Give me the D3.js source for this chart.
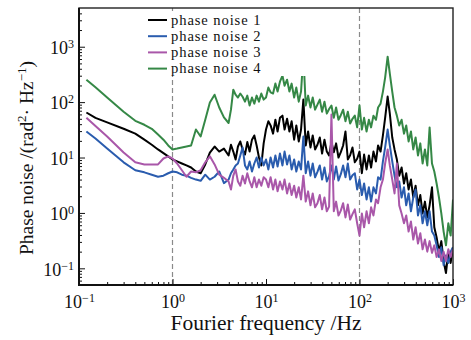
<!DOCTYPE html>
<html>
<head>
<meta charset="utf-8">
<script src="https://cdn.jsdelivr.net/npm/d3@7"></script>
<style>
  body { margin: 0; background: #fff; }
  text { font-family: "Liberation Serif", "Times New Roman", serif; fill: #111; }
</style>
</head>
<body>
<div id="chart"></div>
<script>
// Fourier frequency (Hz)
const freq = [
    0.12, 0.15, 0.2, 0.3, 0.4, 0.5, 0.6, 0.7, 0.8, 0.9,
    1, 1.12, 1.26, 1.41, 1.58, 1.78, 2, 2.24, 2.51, 2.82, 3.16, 3.55,
    3.98, 4.22, 4.47, 4.73, 5.01, 5.31, 5.62, 5.96, 6.31, 6.68, 7.08, 7.5, 7.94, 8.41, 8.91, 9.44,
    10, 10.6, 11.2, 11.9, 12.6, 13.3, 14.1, 15, 15.8, 16.8,
    17.8, 18.8, 20, 21.1, 22.4, 23.7, 25.1, 26.6, 28.2, 29.9,
    31.6, 33.5, 35.5, 37.6, 39.8, 42.2, 44.7, 47.3, 50.1, 53.1,
    56.2, 59.6, 63.1, 66.8, 70.8, 75, 79.4, 84.1, 89.1, 94.4,
    100, 106, 112, 119, 126, 133, 141, 150, 158, 168,
    178, 188, 200, 211, 224, 237, 251, 266, 282, 299,
    316, 335, 355, 376, 398, 422, 447, 473, 501, 531,
    562, 596, 631, 668, 708, 750, 794, 841, 891, 944,
    1000
];

// phase noise (rad^2/Hz)
const noise1 = [
    65, 52, 43, 33, 27, 21, 17, 14, 12, 10.5,
    9.2, 8.5, 7.8, 7.2, 6.6, 5.6, 5.2, 7.5, 12.3, 15.8, 12.8, 14.5,
    10.9, 17, 12.8, 9.2, 15.8, 19.5, 14, 11.3, 19, 12.8, 21, 25, 16.5, 10, 7.2, 18,
    32, 45, 38, 27, 48, 29.5, 52, 57, 32, 50,
    29.5, 45, 21, 38, 19.5, 32, 111, 16.5, 29.5, 15.2,
    25, 14, 17, 23, 11.8, 21, 12.8, 10.9, 19, 12.5,
    18, 10, 12.5, 16.5, 29.5, 9.2, 11, 15.2, 8.2, 9.5,
    12.8, 5.2, 11.3, 6.1, 10.9, 6.6, 12.8, 8.5, 16.5, 12.8,
    25, 52, 126, 62, 23, 14, 9.2, 4.7, 6.6, 3.4,
    5.2, 2.65, 4.0, 1.9, 3.1, 1.37, 2.1, 0.98, 1.6, 0.83,
    1.37, 2.9, 0.55, 0.36, 0.2, 0.31, 0.135, 0.082, 0.2, 0.125,
    0.24
];

const noise2 = [
    29.5, 22, 14.5, 8.2, 5.9, 5.4, 4.9, 4.5, 4.7, 5.2,
    5.6, 5.4, 4.9, 4.7, 4.3, 4.0, 3.8, 4.9, 4.0, 4.5, 5.6, 3.45,
    4.0, 5.2, 6.1, 7.2, 7.8, 10.9, 15.2, 7.2, 6.1, 8.5, 5.6, 7.8, 10, 6.6, 10, 7.2,
    9.2, 6.1, 10, 6.6, 10.9, 6.9, 11.8, 7.2, 12.8, 7.5,
    10.9, 6.1, 9.2, 5.6, 8.5, 6.1, 24, 5.2, 8.5, 4.7,
    7.8, 4.4, 5.5, 7.2, 4.0, 6.6, 3.7, 4.6, 7.2, 4.0,
    6.9, 3.85, 5.0, 7.2, 4.4, 7.8, 4.0, 4.8, 5.2, 2.65,
    4.0, 2.1, 3.4, 1.75, 2.9, 1.6, 2.9, 2.25, 4.4, 4.0,
    8.5, 15.2, 32, 16.5, 8.5, 4.7, 2.9, 3.7, 1.9, 2.9,
    1.37, 2.25, 1.07, 1.9, 2.65, 0.9, 1.37, 0.65, 1.07, 0.6,
    1.07, 0.46, 0.39, 0.26, 0.16, 0.24, 0.114, 0.17, 0.125, 0.2,
    0.24
];

const noise3 = [
    52, 37, 24, 12.3, 8.2, 7.5, 7.5, 7.5, 9.6, 10.5,
    9.6, 7.8, 5.9, 4.5, 5.6, 5.4, 5.9, 8.2, 10.5, 7.5, 4.9, 4.3,
    3.7, 2.65, 4.7, 6.1, 3.7, 3.1, 4.7, 3.4, 5.2, 3.7, 2.9, 4.4, 2.9, 4.0, 3.1, 4.4,
    4.0, 2.9, 4.4, 2.65, 4.0, 2.45, 3.7, 2.65, 4.0, 2.25,
    3.4, 2.1, 3.1, 1.9, 2.9, 1.75, 4.7, 1.6, 2.45, 1.37,
    2.25, 1.26, 1.5, 2.1, 1.16, 1.9, 1.07, 1.3, 60, 1.07,
    1.6, 0.9, 1.1, 1.5, 0.83, 1.42, 0.76, 0.95, 1.16, 0.65,
    0.39, 0.98, 0.55, 1.07, 0.65, 1.26, 0.9, 1.75, 1.5, 2.9,
    4.0, 7.8, 14, 7.2, 4.0, 2.25, 7.8, 1.37, 0.98, 0.65,
    0.9, 0.46, 0.7, 0.33, 0.55, 0.28, 0.43, 0.22, 0.33, 0.2,
    0.31, 0.19, 0.26, 0.16, 0.22, 0.135, 0.2, 0.135, 0.22, 0.16,
    0.22
];

const noise4 = [
    254, 185, 121, 67, 46, 39, 33, 26, 21, 16.5,
    14, 14.5, 15.2, 15.8, 16.5, 32, 24, 48, 98, 136, 80, 53,
    42, 73, 168, 136, 121, 143, 125, 102, 131, 87, 121, 94, 131, 102, 143, 111,
    121, 183, 150, 143, 216, 155, 234, 300, 198, 254,
    155, 216, 121, 183, 102, 155, 718, 87, 131, 80,
    121, 73, 90, 111, 67, 102, 62, 75, 87, 52,
    80, 48, 58, 73, 45, 67, 41, 50, 57, 35,
    87, 32, 52, 29.5, 48, 35, 57, 48, 80, 94,
    155, 277, 660, 327, 155, 80, 57, 38, 48, 27,
    38, 19.5, 29.5, 14, 23, 10.9, 18, 7.8, 14, 7.2,
    35, 7.8, 5.6, 3.4, 1.9, 0.98, 0.46, 0.26, 0.65, 0.39,
    1.75
];

const seriesNames = ["phase noise 1", "phase noise 2", "phase noise 3", "phase noise 4"];
const seriesColors = ["#000000", "#2a5cae", "#a957a9", "#358846"];
const xTicks = [0.1, 1, 10, 100, 1000];
const yTicks = [0.1, 1, 10, 100, 1000];
const markerFreqs = [1, 100];

const W = 471, H = 340;
const plot = {left: 79, right: 453, top: 8, bottom: 285};

const svg = d3.select("#chart").append("svg")
    .attr("width", W)
    .attr("height", H);

const x = d3.scaleLog().domain([0.1, 1000]).range([plot.left, plot.right]);
const y = d3.scaleLog().domain([0.05, 5000]).range([plot.bottom, plot.top]);

// minor tick positions (2..9 per decade)
function minorTicks(lo, hi) {
    const out = [];
    for (let e = -3; e <= 4; e++) {
        for (let k = 2; k <= 9; k++) {
            const v = k * Math.pow(10, e);
            if (v > lo * 1.0001 && v < hi * 0.9999) out.push(v);
        }
    }
    return out;
}

function supLabel(sel, anchor) {
    sel.each(function(d) {
        const t = d3.select(this);
        const e = Math.round(Math.log10(d));
        t.text(null).attr("text-anchor", anchor);
        t.append("tspan").text("10");
        t.append("tspan")
            .attr("dy", -6)
            .attr("font-size", 12)
            .text(e < 0 ? "\u2212" + (-e) : e);
    });
}

// clip
svg.append("clipPath").attr("id", "plotClip")
  .append("rect")
    .attr("x", plot.left).attr("y", plot.top)
    .attr("width", plot.right - plot.left).attr("height", plot.bottom - plot.top);

// dashed markers
svg.append("g")
    .selectAll("line")
    .data(markerFreqs)
    .enter().append("line")
    .attr("x1", d => x(d)).attr("x2", d => x(d))
    .attr("y1", plot.top).attr("y2", plot.bottom)
    .attr("stroke", "#8a8a8a")
    .attr("stroke-width", 1.2)
    .attr("stroke-dasharray", "5,3");

// curves
const allSeries = [noise1, noise2, noise3, noise4];
const line = d3.line()
    .x(d => x(d[0]))
    .y(d => y(d[1]));

svg.append("g")
    .attr("clip-path", "url(#plotClip)")
    .selectAll("path")
    .data(allSeries)
    .enter().append("path")
    .attr("d", vals => line(freq.map((f, i) => [f, vals[i]])))
    .attr("fill", "none")
    .attr("stroke", (d, i) => seriesColors[i])
    .attr("stroke-width", 2)
    .attr("stroke-linejoin", "round");

// axes with inward ticks
const xAxis = svg.append("g")
    .attr("transform", "translate(0," + plot.bottom + ")")
    .call(d3.axisBottom(x).tickValues(xTicks).tickSize(-6).tickPadding(9));
xAxis.selectAll("text")
    .attr("font-size", 18)
    .attr("dy", "0.75em")
    .call(supLabel, "middle");

svg.append("g")
    .attr("transform", "translate(0," + plot.bottom + ")")
    .call(d3.axisBottom(x).tickValues(minorTicks(0.1, 1000)).tickSize(-3).tickFormat(""));

const yAxis = svg.append("g")
    .attr("transform", "translate(" + plot.left + ",0)")
    .call(d3.axisLeft(y).tickValues(yTicks).tickSize(-6).tickPadding(5));
yAxis.selectAll("text")
    .attr("font-size", 18)
    .attr("dy", "0.38em")
    .call(supLabel, "end");

svg.append("g")
    .attr("transform", "translate(" + plot.left + ",0)")
    .call(d3.axisLeft(y).tickValues(minorTicks(0.05, 5000)).tickSize(-3).tickFormat(""));

svg.selectAll(".domain").remove();
svg.selectAll(".tick line").attr("stroke", "#111").attr("stroke-width", 1);

// frame
svg.append("rect")
    .attr("x", plot.left).attr("y", plot.top)
    .attr("width", plot.right - plot.left).attr("height", plot.bottom - plot.top)
    .attr("fill", "none")
    .attr("stroke", "#222")
    .attr("stroke-width", 1.4);
svg.append("path")
    .attr("d", "M" + plot.left + "," + plot.top + "V" + plot.bottom + "H" + plot.right)
    .attr("fill", "none")
    .attr("stroke", "#111")
    .attr("stroke-width", 2);

// legend
const legend = svg.append("g");
legend.append("rect")
    .attr("x", 144).attr("y", 11)
    .attr("width", 206).attr("height", 65)
    .attr("fill", "#fff");
const rows = legend.selectAll(".legend")
    .data(seriesNames)
    .enter().append("g")
    .attr("class", "legend")
    .attr("transform", (d, i) => "translate(148," + (20 + i * 16.2) + ")");
rows.append("line")
    .attr("x1", 0).attr("x2", 19)
    .attr("stroke", (d, i) => seriesColors[i])
    .attr("stroke-width", 2);
rows.append("text")
    .attr("x", 23)
    .attr("dy", "0.32em")
    .attr("font-size", 14.6)
    .attr("letter-spacing", 0.9)
    .text(d => d);

// axis titles
svg.append("text")
    .attr("x", 266)
    .attr("y", 330)
    .attr("text-anchor", "middle")
    .attr("font-size", 21.5)
    .text("Fourier frequency /Hz");

const yt = svg.append("text")
    .attr("transform", "translate(33,158) rotate(-90)")
    .attr("text-anchor", "middle")
    .attr("font-size", 19.5);
yt.append("tspan").text("Phase noise /(rad");
yt.append("tspan").attr("dy", -7).attr("font-size", 13).text("2");
yt.append("tspan").attr("dy", 7).text("\u00b7 Hz");
yt.append("tspan").attr("dy", -7).attr("font-size", 13).text("\u22121");
yt.append("tspan").attr("dy", 7).text(")");
</script>
</body>
</html>
